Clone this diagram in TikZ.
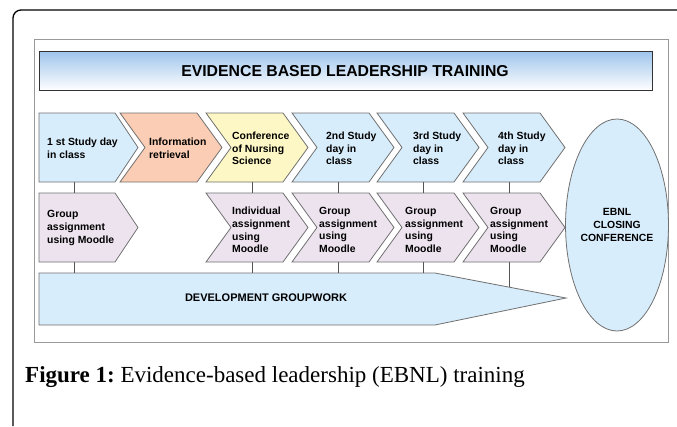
\documentclass[tikz,border=0pt]{standalone}
\usepackage{fontspec}
\setmainfont{Liberation Sans}
\newfontfamily\capfont{Liberation Serif}
\usetikzlibrary{shapes.geometric}
\definecolor{rowblue}{HTML}{D8EDFB}
\definecolor{salmon}{HTML}{FACDB4}
\definecolor{paleyellow}{HTML}{FCF7C4}
\definecolor{palepurple}{HTML}{EDE3EF}
\definecolor{titleblue}{HTML}{9FC5EC}
\definecolor{edgegray}{HTML}{707070}
\definecolor{linegray}{HTML}{555555}
\newcommand\chevshape[4]{%
  \filldraw[chev, fill=#3] (#1,#2) -- ++(77,0) -- ++(25,34.5) -- ++(-25,34.5) -- ++(-77,0) -- ++(25,-34.5) -- cycle;
  \node[hitbox, anchor=north west] (#4) at (#1,#2) {};}
\newcommand\firstchev[3]{%
  \filldraw[chev, fill=#2] (39,#1) -- (115,#1) -- (138,#1+34.5) -- (115,#1+69) -- (39,#1+69) -- cycle;
  \node[hitbox, minimum width=70pt, anchor=north west] (#3) at (39,#1) {};}
\begin{document}
\begin{tikzpicture}[x=1pt,y=-1pt,
  chev/.style={draw=edgegray, line width=0.8pt, line join=miter},
  hitbox/.style={draw=none, inner sep=0pt, minimum width=92pt, minimum height=69pt},
  txt/.style={font=\bfseries\fontsize{10.4}{12.6}\selectfont, align=left, inner sep=0pt, anchor=west},
  conn/.style={draw=linegray, line width=0.8pt}]
\useasboundingbox (0,0) rectangle (677,426);
% outer frame
\draw[line width=1.3pt, rounded corners=8pt] (13,426) -- (13,10) -- (677,10);
% inner frame
\draw[draw=gray!80, line width=1pt] (34,39) rectangle (668,342);
% title
\node[draw=black!80, line width=1pt, top color=titleblue, bottom color=white, minimum width=613pt, minimum height=39pt, anchor=north west, inner sep=0pt] (title) at (39,51) {};
\node[font=\bfseries\fontsize{15.8}{18}\selectfont, inner sep=0pt] (titletxt) at (345,71) {EVIDENCE BASED LEADERSHIP TRAINING};
% row 1
\firstchev{113}{rowblue}{r1c1}
\chevshape{120}{113}{salmon}{r1c2}
\chevshape{206}{113}{paleyellow}{r1c3}
\chevshape{292}{113}{rowblue}{r1c4}
\chevshape{377}{113}{rowblue}{r1c5}
\chevshape{463}{113}{rowblue}{r1c6}
\node[txt] (t11) at (47,148) {1 st Study day\\in class};
\node[txt] (t12) at (149,148) {Information\\retrieval};
\node[txt] (t13) at (232,148.5) {Conference\\of Nursing\\Science};
\node[txt] (t14) at (326,148.5) {2nd Study\\day in\\class};
\node[txt] (t15) at (413,148.5) {3rd Study\\day in\\class};
\node[txt] (t16) at (498,148.5) {4th Study\\day in\\class};
% row 2
\firstchev{193}{palepurple}{r2c1}
\chevshape{206}{193}{palepurple}{r2c3}
\chevshape{292}{193}{palepurple}{r2c4}
\chevshape{377}{193}{palepurple}{r2c5}
\chevshape{463}{193}{palepurple}{r2c6}
\node[txt] (t21) at (47,228) {Group\\assignment\\using Moodle};
\node[txt] (t23) at (232,230) {Individual\\assignment\\using\\Moodle};
\node[txt] (t24) at (319,230) {Group\\assignment\\using\\Moodle};
\node[txt] (t25) at (405,230) {Group\\assignment\\using\\Moodle};
\node[txt] (t26) at (490,230) {Group\\assignment\\using\\Moodle};
% groupwork arrow
\filldraw[chev, fill=rowblue] (39,273) -- (435,273) -- (566,298) -- (435,325) -- (39,325) -- cycle;
\node[draw=none, inner sep=0pt, minimum width=396pt, minimum height=52pt, anchor=north west] (gw) at (39,273) {};
\node[font=\bfseries\fontsize{11}{13}\selectfont, inner sep=0pt] (gwtxt) at (266,298) {DEVELOPMENT GROUPWORK};
\coordinate (g6) at (509,287);
% closing conference
\node[ellipse, draw=edgegray, line width=0.8pt, fill=rowblue, minimum width=78pt, minimum height=212pt, inner sep=0pt, align=center, font=\bfseries\fontsize{10.4}{12.6}\selectfont] (ebnl) at (617,225) {EBNL\\CLOSING\\CONFERENCE};
% connectors
\draw[conn] (r1c1.south) -- (r2c1.north);
\draw[conn] (r1c3.south) -- (r2c3.north);
\draw[conn] (r1c4.south) -- (r2c4.north);
\draw[conn] (r1c5.south) -- (r2c5.north);
\draw[conn] (r1c6.south) -- (r2c6.north);
\draw[conn] (r2c1.south) -- (r2c1.south |- gw.north);
\draw[conn] (r2c3.south) -- (r2c3.south |- gw.north);
\draw[conn] (r2c4.south) -- (r2c4.south |- gw.north);
\draw[conn] (r2c5.south) -- (r2c5.south |- gw.north);
\draw[conn] (r2c6.south) -- (r2c6.south |- g6);
% caption
\node[anchor=base west, inner sep=0pt, font=\capfont\fontsize{23}{27}\selectfont] (cap) at (25,382) {\textbf{Figure 1:}\kern-2pt{} Evidence-based leadership (EBNL) training};
\end{tikzpicture}
\end{document}
